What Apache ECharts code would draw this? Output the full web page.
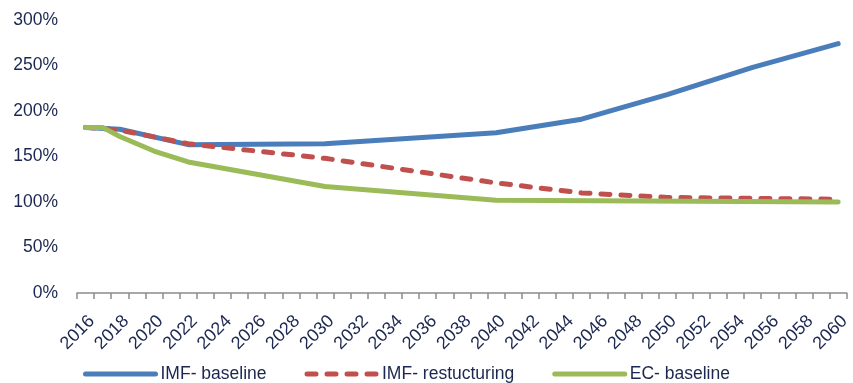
<!DOCTYPE html>
<html>
<head>
<meta charset="utf-8">
<script src="https://cdn.jsdelivr.net/npm/echarts@6/dist/echarts.min.js"></script>
<style>
  html, body { margin: 0; padding: 0; background: #fff; }
  #chart { width: 853px; height: 383px; }
</style>
</head>
<body>
<div id="chart"></div>
<script>
// Years on the horizontal axis
const years = [
  '2016','2017','2018','2019','2020','2021','2022','2023','2024','2025',
  '2026','2027','2028','2029','2030','2031','2032','2033','2034','2035',
  '2036','2037','2038','2039','2040','2041','2042','2043','2044','2045',
  '2046','2047','2048','2049','2050','2051','2052','2053','2054','2055',
  '2056','2057','2058','2059','2060'
];

// Debt-to-GDP ratio (%) at the years where each path changes slope
const imfBaseline = [
  ['2016', 182], ['2018', 180], ['2022', 163], ['2030', 164],
  ['2040', 176], ['2045', 191], ['2050', 218], ['2055', 248], ['2060', 274]
];
const imfRestructuring = [
  ['2016', 182], ['2018', 179], ['2022', 164], ['2030', 148],
  ['2040', 121], ['2045', 110], ['2050', 105], ['2060', 103]
];
const ecBaseline = [
  ['2016', 182], ['2017', 182], ['2018', 172], ['2020', 156], ['2022', 144],
  ['2030', 117], ['2040', 102], ['2060', 100]
];

const yTicks = { min: 0, max: 300, step: 50 };

const textColor = '#1b2750';
const font = 'Liberation Sans, Arial, sans-serif';

const chart = echarts.init(document.getElementById('chart'), null, { renderer: 'canvas' });

function lineSeries(name, data, color, dashed) {
  return {
    name: name,
    type: 'line',
    data: data,
    connectNulls: true,
    showSymbol: false,
    symbol: 'none',
    smooth: false,
    animation: false,
    lineStyle: {
      color: color,
      width: 5,
      type: dashed ? [9, 11] : 'solid',
      cap: 'round',
      join: 'round'
    },
    itemStyle: { color: color }
  };
}

chart.setOption({
  animation: false,
  backgroundColor: '#ffffff',
  grid: { left: 77, right: 3, top: 20, bottom: 90, containLabel: false },
  legend: {
    left: 78,
    top: 360,
    itemWidth: 70,
    itemHeight: 18,
    itemGap: 38,
    itemStyle: { opacity: 0 },
    lineStyle: { width: 5, cap: 'round' },
    textStyle: { color: textColor, fontSize: 17.5, fontFamily: font },
    data: ['IMF- baseline', 'IMF- restucturing', 'EC- baseline']
  },
  xAxis: {
    type: 'category',
    data: years,
    boundaryGap: true,
    axisLine: { show: true, lineStyle: { color: '#8c8c8c', width: 1.5 } },
    axisTick: { show: true, interval: 0, length: 6, lineStyle: { color: '#8c8c8c', width: 1.5 } },
    axisLabel: {
      interval: 1,
      rotate: 45,
      margin: 19,
      verticalAlign: 'top',
      color: textColor,
      fontSize: 18,
      fontFamily: font
    },
    splitLine: { show: false }
  },
  yAxis: {
    type: 'value',
    min: yTicks.min,
    max: yTicks.max,
    interval: yTicks.step,
    axisLine: { show: false },
    axisTick: { show: false },
    splitLine: { show: false },
    axisLabel: {
      formatter: '{value}%',
      margin: 19,
      color: textColor,
      fontSize: 17.5,
      fontFamily: font
    }
  },
  series: [
    lineSeries('IMF- baseline', imfBaseline, '#4a7ebb', false),
    lineSeries('IMF- restucturing', imfRestructuring, '#c0504d', true),
    lineSeries('EC- baseline', ecBaseline, '#9bbb59', false)
  ]
});
</script>
</body>
</html>
